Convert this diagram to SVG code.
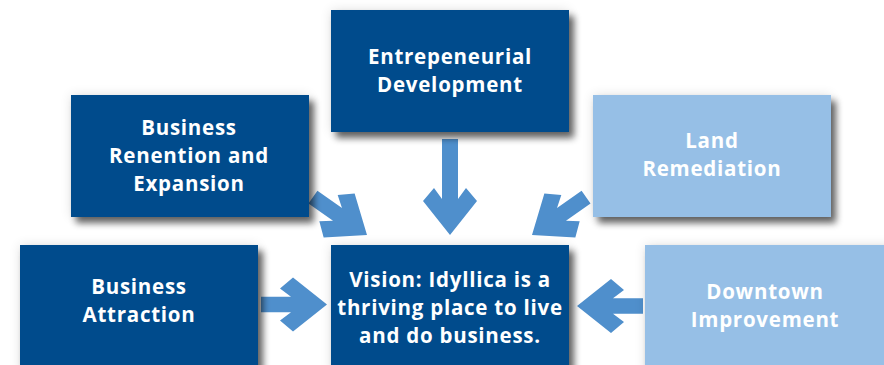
<svg xmlns="http://www.w3.org/2000/svg" width="884" height="365" viewBox="0 0 884 365">
  <style>
    .dark { fill: #024b8c; }
    .light { fill: #96bfe6; }
    .lbl { font-family: "Open Sans", "Liberation Sans", sans-serif; font-weight: 700; font-size: 20.5px; fill: #ffffff; text-anchor: middle; letter-spacing: 0.75px; }
    .arrow { fill: #4f8fcc; }
  </style>
  <defs>
    <filter id="shadow" x="-10%" y="-20%" width="125%" height="150%">
      <feGaussianBlur in="SourceAlpha" stdDeviation="6" result="halo"/>
      <feComponentTransfer in="halo" result="haloFaint"><feFuncA type="linear" slope="0.12"/></feComponentTransfer>
      <feGaussianBlur in="SourceAlpha" stdDeviation="3.5" result="b"/>
      <feOffset in="b" dx="5" dy="6" result="o"/>
      <feComponentTransfer in="o" result="drop"><feFuncA type="linear" slope="0.6"/></feComponentTransfer>
      <feMerge>
        <feMergeNode in="haloFaint"/>
        <feMergeNode in="drop"/>
        <feMergeNode in="SourceGraphic"/>
      </feMerge>
    </filter>
    <!-- notched block arrow, tip at origin, pointing along +x -->
    <polygon id="blockArrow" points="-66,-7.8 -36,-7.8 -47,-16 -34,-27 0,0 -34,27 -47,16 -36,7.8 -66,7.8"/>
    <polygon id="longArrow" points="-96,-8 -36,-8 -47,-16 -34,-27 0,0 -34,27 -47,16 -36,8 -96,8"/>
  </defs>
  <rect width="884" height="365" fill="#ffffff"/>

  <g id="connectors">
    <use href="#longArrow" class="arrow" transform="translate(450,235) rotate(90)"/>
    <use href="#blockArrow" class="arrow" transform="translate(367,235) rotate(35)"/>
    <use href="#blockArrow" class="arrow" transform="translate(532,235) rotate(145)"/>
    <use href="#blockArrow" class="arrow" transform="translate(327,304.5)"/>
    <use href="#blockArrow" class="arrow" transform="translate(577,306) rotate(180)"/>
  </g>

  <g id="entrepreneurial">
    <rect x="331" y="10" width="238" height="122" class="dark" filter="url(#shadow)"/>
    <text class="lbl" x="450" y="64">Entrepeneurial</text>
    <text class="lbl" x="450" y="92">Development</text>
  </g>

  <g id="retention">
    <rect x="71" y="95" width="238" height="122" class="dark" filter="url(#shadow)"/>
    <text class="lbl" x="189" y="135">Business</text>
    <text class="lbl" x="189" y="163">Renention and</text>
    <text class="lbl" x="189" y="191">Expansion</text>
  </g>

  <g id="land">
    <rect x="593" y="95" width="238" height="122" class="light" filter="url(#shadow)"/>
    <text class="lbl" x="712" y="148">Land</text>
    <text class="lbl" x="712" y="176">Remediation</text>
  </g>

  <g id="attraction">
    <rect x="20" y="245" width="238" height="130" class="dark" filter="url(#shadow)"/>
    <text class="lbl" x="139" y="294">Business</text>
    <text class="lbl" x="139" y="322">Attraction</text>
  </g>

  <g id="vision">
    <rect x="331" y="245" width="238" height="130" class="dark" filter="url(#shadow)"/>
    <text class="lbl" x="450" y="287">Vision: Idyllica is a</text>
    <text class="lbl" x="450" y="315">thriving place to live</text>
    <text class="lbl" x="450" y="343">and do business.</text>
  </g>

  <g id="downtown">
    <rect x="645" y="245" width="250" height="130" class="light" filter="url(#shadow)"/>
    <text class="lbl" x="765" y="299">Downtown</text>
    <text class="lbl" x="765" y="327">Improvement</text>
  </g>
</svg>
